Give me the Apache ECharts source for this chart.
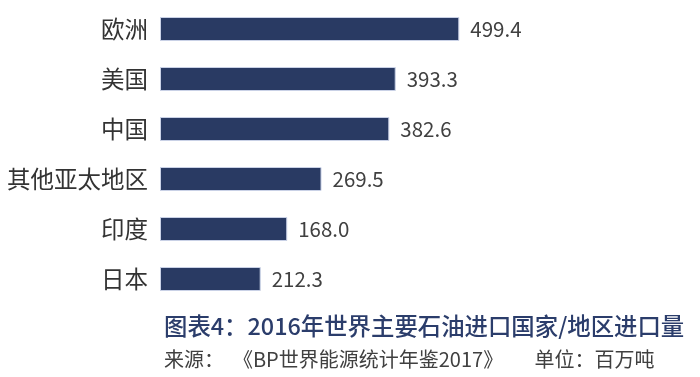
<!DOCTYPE html>
<html>
<head>
<meta charset="utf-8">
<script src="https://cdn.jsdelivr.net/npm/echarts@6/dist/echarts.min.js"></script>
<style>html,body{margin:0;padding:0;background:#fff;}#main{width:700px;height:377px;}</style>
</head>
<body>
<div id="main"></div>
<script>
const categories = ['欧洲', '美国', '中国', '其他亚太地区', '印度', '日本'];
const barValues = [499.4, 393.3, 382.6, 269.5, 212.3, 168.0];
const labelTexts = ['499.4', '393.3', '382.6', '269.5', '168.0', '212.3'];
const titleText = '图表4：2016年世界主要石油进口国家/地区进口量';
const sourceText = '来源：  《BP世界能源统计年鉴2017》       单位：百万吨';

const chart = echarts.init(document.getElementById('main'), null, {renderer: 'canvas'});
const FONT = '"Noto Sans CJK SC", "Noto Sans", sans-serif';
chart.setOption({
  animation: false,
  backgroundColor: '#ffffff',
  title: [
    {text: titleText, left: 159, top: 309,
     textStyle: {fontFamily: FONT, fontSize: 23.4, fontWeight: 500, color: '#2b3d6b'}},
    {text: sourceText, left: 159, top: 344,
     textStyle: {fontFamily: FONT, fontSize: 20, fontWeight: 'normal', color: '#404040'}}
  ],
  grid: {left: 160, top: 4, height: 300, width: 359.6, containLabel: false},
  xAxis: {type: 'value', min: 0, max: 600, show: false},
  yAxis: {
    type: 'category', data: categories, inverse: true,
    axisLine: {show: false}, axisTick: {show: false},
    axisLabel: {fontFamily: FONT, fontSize: 23.5, color: '#333333', margin: 12}
  },
  series: [{
    type: 'bar',
    data: barValues,
    barCategoryGap: '52%',
    itemStyle: {color: '#293a63', borderColor: '#c9d1e6', borderWidth: 1},
    label: {
      show: true, position: 'right', distance: 11,
      fontFamily: FONT, fontSize: 20.5, color: '#404040',
      formatter: p => labelTexts[p.dataIndex]
    }
  }]
});
</script>
</body>
</html>
